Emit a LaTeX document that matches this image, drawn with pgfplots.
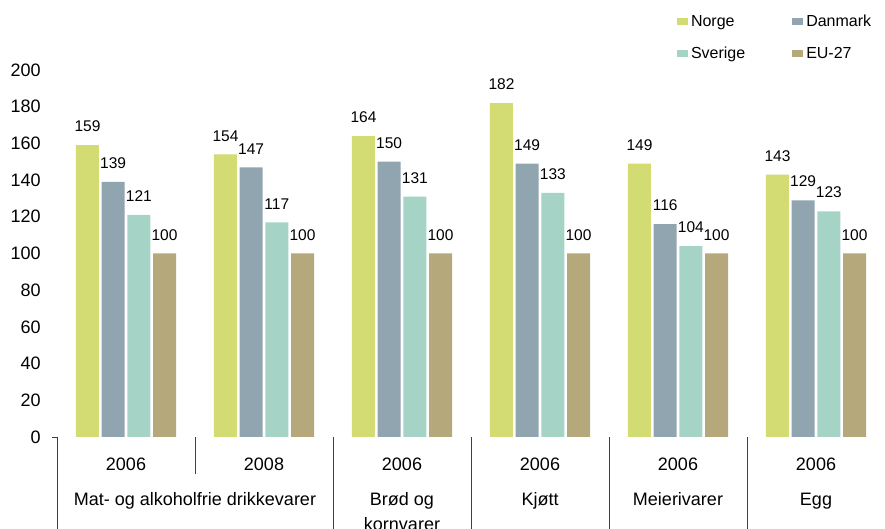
\documentclass[border=0pt]{standalone}
\usepackage{pgfplots}
\pgfplotsset{compat=1.18}
\usepackage{pgfplotstable}
\usepackage{fontspec}
\setmainfont{Liberation Sans}

\definecolor{norge}{HTML}{D3DC72}
\definecolor{danmark}{HTML}{91A5B0}
\definecolor{sverige}{HTML}{A5D4C7}
\definecolor{eu}{HTML}{B5A87A}
\definecolor{sepline}{HTML}{404040}

\pgfplotsset{
  sqlegend/.style={legend image code/.code={\fill[##1] (0pt,-3.5pt) rectangle (11pt,3.5pt);}},
}
\tikzset{
  catlabel/.style={anchor=base, inner sep=0pt, font=\fontsize{18}{20}\selectfont},
  groupsep/.style={sepline, line width=0.8pt},
}

% price level index, EU-27 = 100
\pgfplotstableread{
x   N   D   S   E
0.5 159 139 121 100
1.5 154 147 117 100
2.5 164 150 131 100
3.5 182 149 133 100
4.5 149 116 104 100
5.5 143 129 123 100
}\prices

\begin{document}
\begin{tikzpicture}
\useasboundingbox (-57pt,-92pt) rectangle (828pt,437pt);
\begin{axis}[
  at={(0pt,0pt)}, anchor=south west,
  scale only axis, width=828pt, height=367pt,
  xmin=0, xmax=6, ymin=0, ymax=200,
  clip=false,
  ybar=2.7pt, bar width=23pt,
  axis lines=left,
  axis line style={draw=none,-},
  xtick=\empty,
  ytick={0,20,...,200},
  ytick style={draw=none},
  /pgf/number format/assume math mode=true,
  yticklabel style={font=\fontsize{18}{20}\selectfont, inner sep=0pt, anchor=east, xshift=-14pt},
  nodes near coords,
  every node near coord/.append style={font=\fontsize{15.5}{17}\selectfont, inner sep=0pt, anchor=south, yshift=13pt, text=black},
  legend columns=2,
  legend cell align=left,
  legend style={
    at={(axis description cs:0.7488,1.0885)}, anchor=west,
    draw=none, fill=none, inner sep=0pt, outer sep=0pt,
    font=\fontsize{16}{18}\selectfont,
    /tikz/row sep=19pt,
    /tikz/every odd column/.append style={column sep=3pt},
    /tikz/every even column/.append style={column sep=47pt},
    nodes={inner sep=0pt},
  },
]
\addplot[fill=norge, draw=none, sqlegend] table[x=x, y=N] {\prices};
\addplot[fill=danmark, draw=none, sqlegend] table[x=x, y=D] {\prices};
\addplot[fill=sverige, draw=none, sqlegend] table[x=x, y=S] {\prices};
\addplot[fill=eu, draw=none, sqlegend] table[x=x, y=E] {\prices};
\legend{Norge, Danmark, Sverige, EU-27}

% group separators below the bars
\draw[groupsep] (axis cs:0,0) -- ++(-5pt,0pt);
\draw[groupsep] (axis cs:0,0) -- ++(0pt,-100pt);
\draw[groupsep] (axis cs:1,0) -- ++(0pt,-37pt);
\draw[groupsep] (axis cs:2,0) -- ++(0pt,-100pt);
\draw[groupsep] (axis cs:3,0) -- ++(0pt,-100pt);
\draw[groupsep] (axis cs:4,0) -- ++(0pt,-100pt);
\draw[groupsep] (axis cs:5,0) -- ++(0pt,-100pt);

% year row
\node[catlabel, yshift=-34pt] at (axis cs:0.5,0) {2006};
\node[catlabel, yshift=-34pt] at (axis cs:1.5,0) {2008};
\node[catlabel, yshift=-34pt] at (axis cs:2.5,0) {2006};
\node[catlabel, yshift=-34pt] at (axis cs:3.5,0) {2006};
\node[catlabel, yshift=-34pt] at (axis cs:4.5,0) {2006};
\node[catlabel, yshift=-34pt] at (axis cs:5.5,0) {2006};

% category row
\node[catlabel, yshift=-69pt] at (axis cs:1,0) {Mat- og alkoholfrie drikkevarer};
\node[catlabel, yshift=-69pt] at (axis cs:2.5,0) {Brød og};
\node[catlabel, yshift=-93pt] at (axis cs:2.5,0) {kornvarer};
\node[catlabel, yshift=-69pt] at (axis cs:3.5,0) {Kjøtt};
\node[catlabel, yshift=-69pt] at (axis cs:4.5,0) {Meierivarer};
\node[catlabel, yshift=-69pt] at (axis cs:5.5,0) {Egg};
\end{axis}
\end{tikzpicture}
\end{document}
